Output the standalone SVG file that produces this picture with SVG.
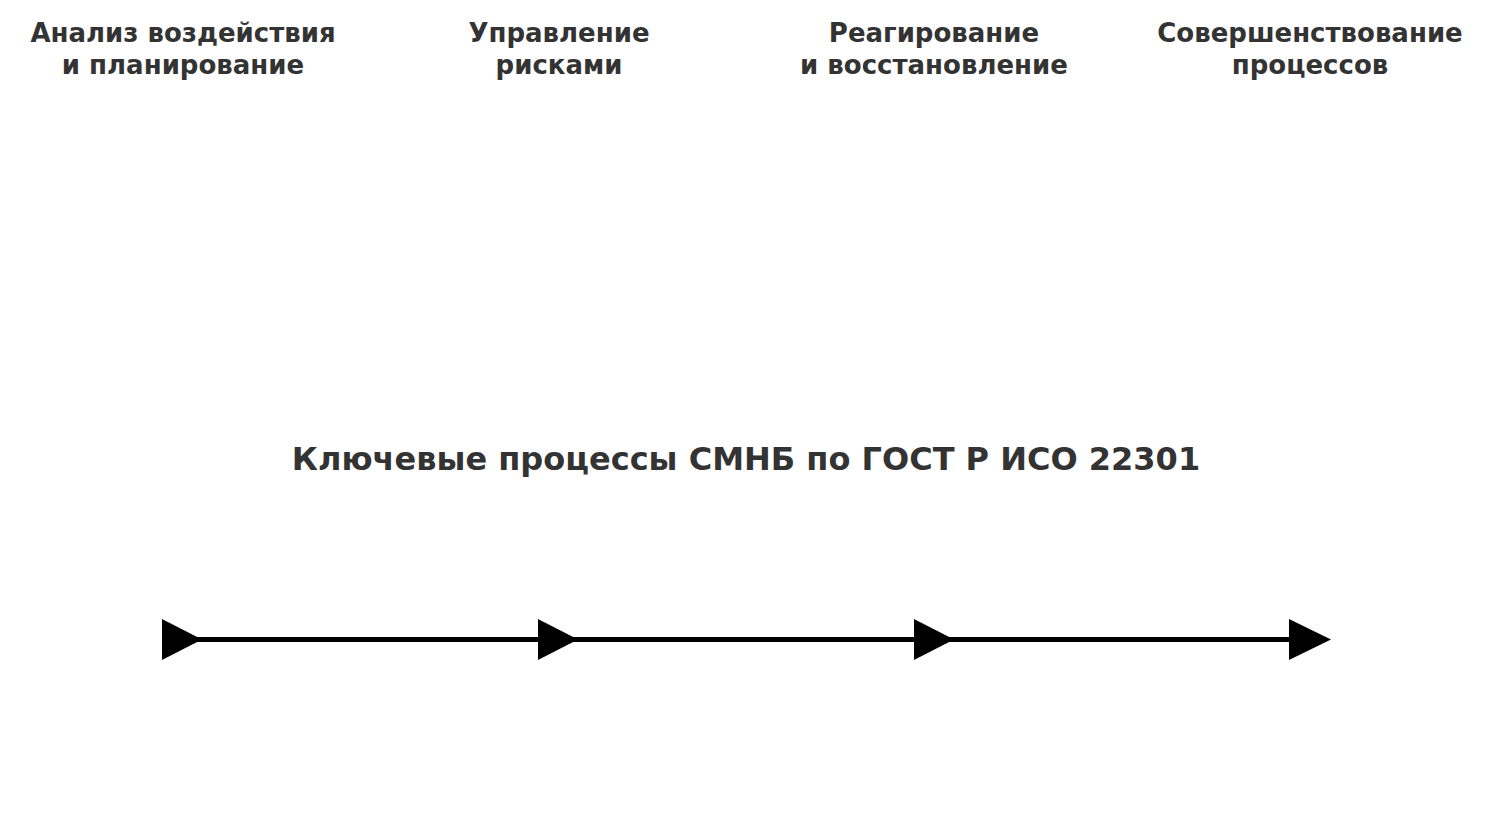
<svg xmlns="http://www.w3.org/2000/svg" width="1493" height="814" viewBox="0 0 1493 814">
<style>
.h{font-family:"DejaVu Sans",sans-serif;font-weight:bold;font-size:26px;fill:#333;text-anchor:middle}
.t{font-family:"DejaVu Sans",sans-serif;font-weight:bold;font-size:32px;fill:#333;text-anchor:middle}
.tri{fill:#000}
</style>
<rect width="1493" height="814" fill="#fff"/>
<text class="t" x="746" y="470">Ключевые процессы СМНБ по ГОСТ Р ИСО 22301</text>
<g id="connectors">
<line x1="180" y1="639.5" x2="1310" y2="639.5" stroke="#000" stroke-width="5"/>
</g>
<g id="n1"><text class="h" x="183" y="42">Анализ воздействия</text><text class="h" x="183" y="74">и планирование</text><polygon class="tri" points="162,619 162,660 202,639.5"/></g>
<g id="n2"><text class="h" x="559" y="42">Управление</text><text class="h" x="559" y="74">рисками</text><polygon class="tri" points="538,619 538,660 578,639.5"/></g>
<g id="n3"><text class="h" x="934" y="42">Реагирование</text><text class="h" x="934" y="74">и восстановление</text><polygon class="tri" points="914,619 914,660 954,639.5"/></g>
<g id="n4"><text class="h" x="1310" y="42">Совершенствование</text><text class="h" x="1310" y="74">процессов</text><polygon class="tri" points="1289,619 1289,660 1331,639.5"/></g>
</svg>
